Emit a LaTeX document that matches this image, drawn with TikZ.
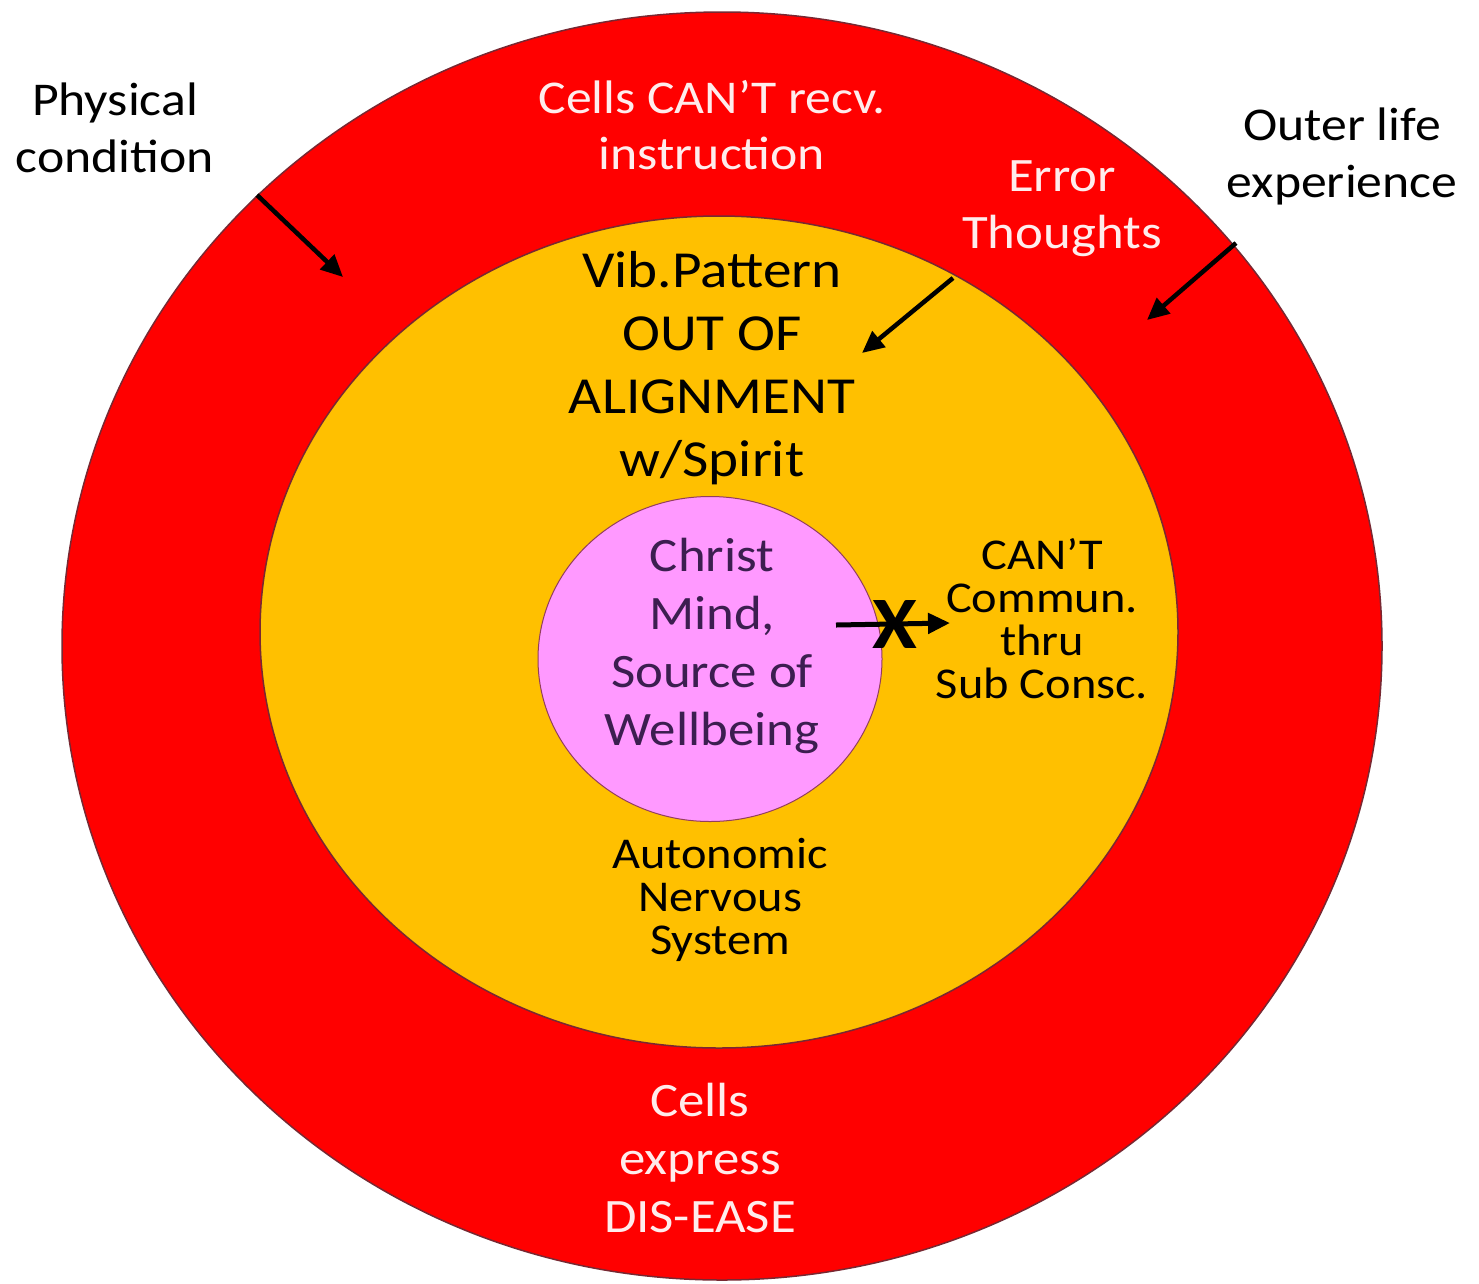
\documentclass[tikz,border=0pt]{standalone}
\usepackage{fontspec}
\setmainfont{Carlito}[FakeStretch=1.1]
\usetikzlibrary{arrows.meta,shapes.geometric}
\definecolor{ringred}{RGB}{255,0,0}
\definecolor{ringorange}{RGB}{255,192,0}
\definecolor{corepink}{RGB}{255,153,255}
\definecolor{edgeline}{RGB}{120,40,50}
\definecolor{paletext}{RGB}{255,236,236}
\definecolor{plumtext}{RGB}{60,30,80}
\newcommand\setfs[2]{\fontsize{#1}{#2}\selectfont}
\begin{document}
\begin{tikzpicture}[x=1pt,y=-1pt,
  ring/.style={ellipse,draw=edgeline,line width=1.5pt,inner sep=0pt},
  lbl/.style={align=center,inner sep=0pt},
  arr/.style={line width=4.5pt,-{Triangle[length=22pt,width=20pt]}}]
\useasboundingbox (0,0) rectangle (1479,1283);
\node[ring,fill=ringred,minimum width=1320pt,minimum height=1268pt] (outer) at (722,646) {};
\node[ring,fill=ringorange,minimum width=918pt,minimum height=832pt] (middle) at (719,632) {};
\node[ring,fill=corepink,draw=edgeline!80!corepink,line width=1pt,minimum width=344pt,minimum height=325pt] (core) at (710,659) {};

\node[lbl,font=\setfs{47}{57}] (phys) at (115,128) {Physical\\condition};
\node[lbl,font=\setfs{47}{56},text=paletext] (recv) at (712,125) {Cells CAN’T recv.\\instruction};
\node[lbl,font=\setfs{48}{57},text=paletext] (err) at (1062,209) {Error\\Thoughts};
\node[lbl,font=\setfs{47}{57}] (outerlife) at (1342,156) {Outer life\\experience};
\node[lbl,font=\setfs{52}{63}] (vib) at (712,368) {Vib.Pattern\\OUT OF\\ALIGNMENT\\w/Spirit};
\node[lbl,font=\setfs{48}{58},text=plumtext] (christ) at (712,646) {Christ\\Mind,\\Source of\\Wellbeing};
\node[lbl,font=\setfs{44}{43}] (cant) at (1042,619) {CAN’T\\Commun.\\thru\\Sub Consc.};
\node[lbl,font=\setfs{44}{43}] (ans) at (720,900) {Autonomic\\Nervous\\System};
\node[lbl,font=\setfs{48}{58},text=paletext] (dis) at (700,1158) {Cells\\express\\DIS-EASE};

\coordinate (pcS) at (257,195);
\coordinate (pcE) at (343,277);
\coordinate (olS) at (1236,243);
\coordinate (olE) at (1147,320);
\coordinate (etS) at (953,278);
\coordinate (etE) at (862,353);
\coordinate (cmS) at (836,625);
\coordinate (cmE) at (950,623);
\draw[arr] (pcS) -- (pcE);
\draw[arr] (olS) -- (olE);
\draw[arr] (etS) -- (etE);
\draw[arr,line width=5pt] (cmS) -- (cmE);
\node[lbl,font=\setfs{74}{74}\bfseries] (block) at (895,624) {X};
\end{tikzpicture}
\end{document}
